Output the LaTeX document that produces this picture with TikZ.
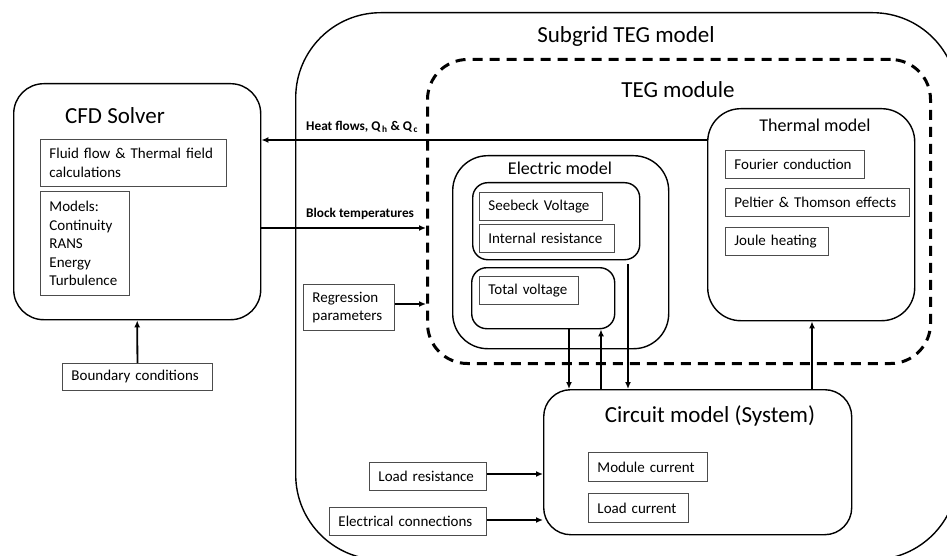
\documentclass[tikz,border=0pt]{standalone}
\usepackage{fontspec}
\setmainfont{Carlito}
\usetikzlibrary{arrows.meta}
\begin{document}
\begin{tikzpicture}[x=1pt,y=-1pt,
  rbox/.style={draw=black, line width=1.4pt, anchor=north west, inner sep=0pt},
  tb/.style={draw=black!70, line width=0.9pt, anchor=north west, inner xsep=9pt, inner ysep=0pt, align=left, font=\fontsize{15}{18.6}\selectfont},
  ttl/.style={font=\fontsize{23}{26}\selectfont},
  sttl/.style={font=\fontsize{18}{21}\selectfont},
  lbl/.style={font=\bfseries\fontsize{13.3}{15}\selectfont, anchor=west, inner sep=0pt},
  arr/.style={line width=1.8pt, -{Latex[length=7pt,width=6pt]}}]
\useasboundingbox (0,0) rectangle (947,556);
\clip (0,0) rectangle (947,556);

% outer subgrid box
\node[rbox, rounded corners=85pt, minimum width=662pt, minimum height=547pt] (sub) at (295,12) {};
\node[ttl] (subttl) at (626,36) {Subgrid TEG model};

% TEG module dashed box
\node[draw=black, line width=3pt, dash pattern=on 10pt off 7pt, anchor=north west, inner sep=0pt,
      rounded corners=40pt, minimum width=503pt, minimum height=304pt] (teg) at (426,58) {};
\node[ttl] (tegttl) at (678,90) {TEG module};

% CFD solver
\node[rbox, rounded corners=30pt, minimum width=247pt, minimum height=236pt] (cfd) at (13,83) {};
\node[ttl] (cfdttl) at (115,116) {CFD Solver};
\node[tb, minimum width=186pt, minimum height=47pt, text width=168pt] (fluid) at (40,139)
  {\mbox{Fluid flow \& Thermal field}\\calculations};
\node[tb, minimum width=89pt, minimum height=104pt, text width=71pt] (models) at (40,191)
  {Models:\\Continuity\\RANS\\Energy\\Turbulence};
\node[tb, minimum width=150pt, minimum height=27pt, text width=132pt] (bc) at (62,363)
  {\mbox{Boundary conditions}};

% Electric model
\node[rbox, rounded corners=35pt, minimum width=216pt, minimum height=193pt] (elec) at (452,155) {};
\node[sttl] (electtl) at (560,168) {Electric model};
\node[rbox, rounded corners=15pt, minimum width=167pt, minimum height=77pt] (eb1) at (472,182) {};
\node[tb, minimum width=123pt, minimum height=28pt, text width=105pt] (seeb) at (479,192) {\mbox{Seebeck Voltage}};
\node[tb, minimum width=135pt, minimum height=28pt, text width=117pt] (intr) at (479,224) {\mbox{Internal resistance}};
\node[rbox, rounded corners=15pt, minimum width=143pt, minimum height=61pt] (eb2) at (471,267) {};
\node[tb, minimum width=99pt, minimum height=28pt, text width=81pt] (totv) at (479,276) {\mbox{Total voltage}};

% Thermal model
\node[rbox, rounded corners=33pt, minimum width=207pt, minimum height=212pt] (therm) at (707,108) {};
\node[sttl] (thermttl) at (815,125) {Thermal model};
\node[tb, minimum width=139pt, minimum height=28pt, text width=121pt] (four) at (725,150) {\mbox{Fourier conduction}};
\node[tb, minimum width=184pt, minimum height=28pt, text width=166pt] (pelt) at (725,188) {\mbox{Peltier \& Thomson effects}};
\node[tb, minimum width=103pt, minimum height=28pt, text width=85pt] (joule) at (725,227) {\mbox{Joule heating}};

% Regression parameters
\node[tb, minimum width=91pt, minimum height=46pt, text width=73pt] (reg) at (303,284) {Regression\\parameters};

% Circuit model
\node[rbox, rounded corners=27pt, minimum width=308pt, minimum height=145pt] (circ) at (543,389) {};
\node[ttl] (circttl) at (710,416) {Circuit model (System)};
\node[tb, minimum width=119pt, minimum height=29pt, text width=101pt] (modc) at (588,452) {\mbox{Module current}};
\node[tb, minimum width=100pt, minimum height=29pt, text width=82pt] (loadc) at (588,493) {\mbox{Load current}};
\node[tb, minimum width=117pt, minimum height=28pt, text width=99pt] (loadr) at (369,462) {\mbox{Load resistance}};
\node[tb, minimum width=157pt, minimum height=28pt, text width=139pt] (econ) at (329,507) {\mbox{Electrical connections}};

% labels
\node[lbl] (hflbl) at (306,127) {Heat flows, Q\textsubscript{\,h} \& Q\textsubscript{\,c}};
\node[lbl] (btlbl) at (306,214) {Block temperatures};

% connectors
\draw[arr] (therm.west |- 0,140) -- (cfd.east |- 0,140);
\draw[arr] (cfd.east |- 0,228) -- (teg.west |- 0,228);
\draw[arr] (reg.east |- 0,304) -- (teg.west |- 0,304);
\draw[arr] (bc.north) -- (cfd.south);
\draw[arr] (eb2.south -| 569,0) -- (circ.north -| 569,0);
\draw[arr] (circ.north -| 601,0) -- (eb2.south -| 601,0);
\draw[arr] ([yshift=-4pt]eb1.south -| 628,0) -- (circ.north -| 628,0);
\draw[arr] (circ.north -| 812,0) -- (therm.south -| 812,0);
\draw[arr] (loadr.east |- 0,474) -- (circ.west |- 0,474);
\draw[arr] (econ.east |- 0,520) -- (circ.west |- 0,520);
\end{tikzpicture}
\end{document}
